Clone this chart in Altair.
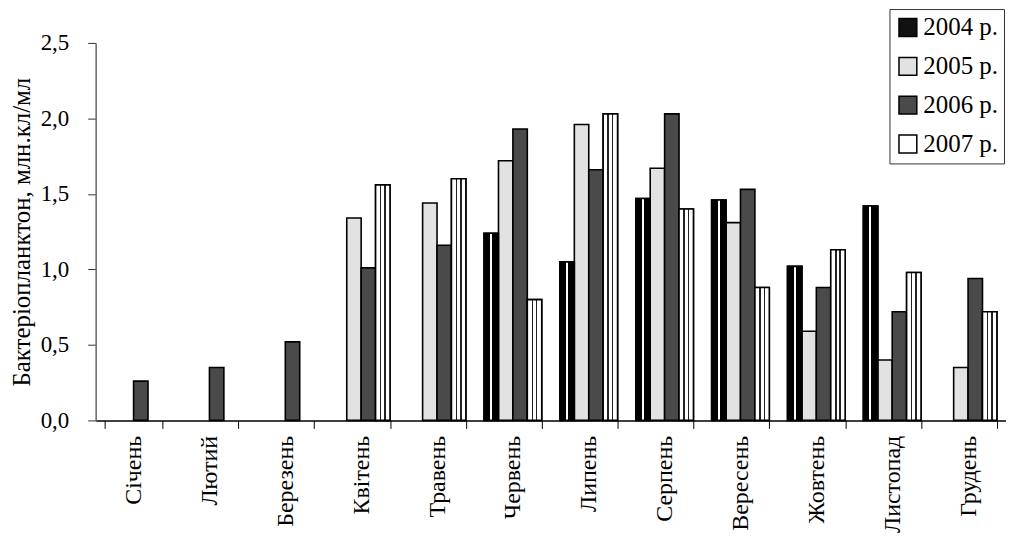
import altair as alt
import pandas as pd

months = ["Січень", "Лютий", "Березень", "Квітень", "Травень", "Червень",
          "Липень", "Серпень", "Вересень", "Жовтень", "Листопад", "Грудень"]
years = ["2004 р.", "2005 р.", "2006 р.", "2007 р."]
y2004 = [None, None, None, None, None, 1.24, 1.05, 1.47, 1.46, 1.02, 1.42, None]
y2005 = [None, None, None, 1.34, 1.44, 1.72, 1.96, 1.67, 1.31, 0.59, 0.40, 0.35]
y2006 = [0.26, 0.35, 0.52, 1.01, 1.16, 1.93, 1.66, 2.03, 1.53, 0.88, 0.72, 0.94]
y2007 = [None, None, None, 1.56, 1.60, 0.80, 2.03, 1.40, 0.88, 1.13, 0.98, 0.72]
fills = ["#111111", "#e2e2e2", "#4a4a4a", "#ffffff"]

rows = []
for yr, vals in zip(years, [y2004, y2005, y2006, y2007]):
    for m, v in zip(months, vals):
        if v is not None:
            rows.append({"month": m, "year": yr, "value": v})
df = pd.DataFrame(rows)

FONT = "Liberation Serif"

x_enc = alt.X("month:N", sort=months, title=None,
              scale=alt.Scale(domain=months, paddingInner=0.24, paddingOuter=0.12),
              axis=alt.Axis(labelAngle=-90, labelAlign="right", labelBaseline="middle",
                            labelFont=FONT, labelFontSize=24, labelColor="black",
                            labelPadding=7, tickBand="extent", tickSize=8,
                            tickColor="black", domainColor="black", domainWidth=1.5,
                            tickWidth=1))
xo_enc = alt.XOffset("year:N", scale=alt.Scale(domain=years, paddingInner=0, paddingOuter=0))
y_enc = alt.Y("value:Q", title="Бактеріопланктон, млн.кл/мл",
              scale=alt.Scale(domain=[0, 2.5], nice=False),
              axis=alt.Axis(values=[0, 0.5, 1.0, 1.5, 2.0, 2.5], grid=False,
                            labelExpr="replace(format(datum.value, '.1f'), '.', ',')",
                            labelFont=FONT, labelFontSize=23, labelColor="black",
                            labelPadding=19, tickSize=8, tickColor="#333",
                            domainColor="#666", domainWidth=1.5,
                            titleFont=FONT, titleFontSize=25, titleFontWeight="normal",
                            titleColor="black", titlePadding=6))

base = alt.Chart(df).mark_bar(stroke="black", strokeWidth=1.6).encode(
    x=x_enc, xOffset=xo_enc, y=y_enc,
    color=alt.Color("year:N", scale=alt.Scale(domain=years, range=fills),
                    legend=alt.Legend(title=None, orient="none", legendX=797, legendY=-34,
                                      symbolType="square", symbolSize=320,
                                      symbolStrokeColor="black", symbolStrokeWidth=1.5,
                                      labelFont=FONT, labelFontSize=25, labelColor="black",
                                      strokeColor="#333", padding=6, rowPadding=13,
                                      labelOffset=3, symbolOpacity=1))
)

grad2004 = alt.Gradient(gradient="linear", x1=0, x2=1, y1=0, y2=0, stops=[
    alt.GradientStop(color="#000000", offset=0),
    alt.GradientStop(color="#000000", offset=0.42),
    alt.GradientStop(color="#ffffff", offset=0.42),
    alt.GradientStop(color="#ffffff", offset=0.56),
    alt.GradientStop(color="#000000", offset=0.56),
    alt.GradientStop(color="#000000", offset=1)])
grad2007 = alt.Gradient(gradient="linear", x1=0, x2=1, y1=0, y2=0, stops=[
    alt.GradientStop(color="#ffffff", offset=0),
    alt.GradientStop(color="#ffffff", offset=0.3),
    alt.GradientStop(color="#222222", offset=0.3),
    alt.GradientStop(color="#222222", offset=0.4),
    alt.GradientStop(color="#ffffff", offset=0.4),
    alt.GradientStop(color="#ffffff", offset=0.6),
    alt.GradientStop(color="#222222", offset=0.6),
    alt.GradientStop(color="#222222", offset=0.7),
    alt.GradientStop(color="#ffffff", offset=0.7),
    alt.GradientStop(color="#ffffff", offset=1)])

ov2004 = alt.Chart(df).transform_filter(alt.datum.year == "2004 р.").mark_bar(
    stroke="black", strokeWidth=1.6, fill=grad2004).encode(x=x_enc, xOffset=xo_enc, y=y_enc)
ov2007 = alt.Chart(df).transform_filter(alt.datum.year == "2007 р.").mark_bar(
    stroke="black", strokeWidth=1.6, fill=grad2007).encode(x=x_enc, xOffset=xo_enc, y=y_enc)

chart = alt.layer(base, ov2004, ov2007).properties(
    width=914, height=379,
    autosize=alt.AutoSizeParams(type="none"),
    padding={"left": 88, "top": 34, "right": 0, "bottom": 117},
).configure(background="white").configure_view(strokeWidth=0, strokeOpacity=0)

chart.save("out.html", embed_options={"renderer": "svg", "actions": False})
